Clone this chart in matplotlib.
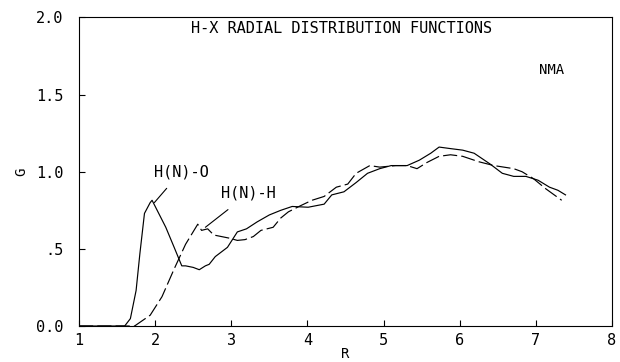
import matplotlib
matplotlib.use("Agg")
import matplotlib.pyplot as plt

# H(N)-O radial distribution (solid)
r_o = [1.0, 1.60, 1.675, 1.75, 1.80, 1.86, 1.935, 1.96, 2.14, 2.25, 2.35, 2.40,
       2.50, 2.58, 2.66, 2.71, 2.79, 2.95, 3.08, 3.20, 3.34, 3.50, 3.65, 3.80,
       4.01, 4.22, 4.32, 4.48, 4.64, 4.79, 4.95, 5.10, 5.31, 5.47, 5.62, 5.73,
       5.88, 6.04, 6.19, 6.40, 6.56, 6.71, 6.87, 7.03, 7.18, 7.29, 7.39]
g_o = [0.0, 0.0, 0.048, 0.23, 0.47, 0.73, 0.80, 0.815, 0.64, 0.51, 0.39, 0.39,
       0.38, 0.365, 0.39, 0.40, 0.45, 0.51, 0.61, 0.63, 0.675, 0.72, 0.75, 0.775,
       0.77, 0.79, 0.85, 0.87, 0.93, 0.99, 1.02, 1.04, 1.04, 1.075, 1.12, 1.16,
       1.15, 1.14, 1.12, 1.05, 0.99, 0.97, 0.97, 0.945, 0.90, 0.88, 0.85]

# H(N)-H radial distribution (dashed)
r_h = [1.0, 1.73, 1.935, 2.09, 2.25, 2.40, 2.56, 2.61, 2.69, 2.77, 2.87, 2.97,
       3.08, 3.18, 3.29, 3.39, 3.55, 3.65, 3.75, 3.91, 4.06, 4.22, 4.38, 4.53,
       4.64, 4.82, 4.95, 5.16, 5.31, 5.44, 5.57, 5.73, 5.88, 6.04, 6.25, 6.45,
       6.71, 6.82, 6.97, 7.13, 7.34]
g_h = [0.0, 0.0, 0.07, 0.19, 0.37, 0.53, 0.66, 0.62, 0.63, 0.59, 0.58, 0.57,
       0.555, 0.56, 0.58, 0.62, 0.64, 0.70, 0.74, 0.78, 0.815, 0.84, 0.90, 0.92,
       0.99, 1.04, 1.03, 1.04, 1.04, 1.02, 1.06, 1.10, 1.11, 1.10, 1.065, 1.04,
       1.02, 1.00, 0.955, 0.89, 0.815]

x_ticks = [1, 2, 3, 4, 5, 6, 7, 8]
y_ticks = [0.0, 0.5, 1.0, 1.5, 2.0]
y_tick_labels = ["0.0", ".5", "1.0", "1.5", "2.0"]

plt.rcParams["font.family"] = ["DejaVu Sans Mono"]

fig = plt.figure(figsize=(6.2, 3.62), dpi=100)
ax = fig.add_axes([0.1274, 0.0994, 0.8596, 0.8523])

ax.plot(r_o, g_o, color="black", linewidth=0.85)
ax.plot(r_h, g_h, color="black", linewidth=0.85, linestyle=(0, (12, 3.5)))

ax.set_xlim(1, 8)
ax.set_ylim(0, 2.0)
ax.set_xticks(x_ticks)
ax.set_yticks(y_ticks)
ax.set_yticklabels(y_tick_labels)
ax.tick_params(direction="in", length=4, width=0.8, labelsize=11)
ax.tick_params(axis="x", pad=5)
ax.tick_params(axis="y", pad=11)
for s in ax.spines.values():
    s.set_linewidth(0.8)

ax.set_xlabel("R", fontsize=10, labelpad=-1)
ax.set_ylabel("G", fontsize=10, labelpad=6)

ax.text(4.45, 1.93, "H-X RADIAL DISTRIBUTION FUNCTIONS", ha="center", va="center",
        fontsize=11)
ax.text(7.21, 1.66, "NMA", ha="center", va="center", fontsize=10)

# curve labels with leader lines
ax.annotate("H(N)-O", xy=(1.99, 0.80), xytext=(2.34, 1.0), ha="center", va="center",
            fontsize=11, arrowprops=dict(arrowstyle="-", color="black", lw=0.8,
                                         shrinkA=6, shrinkB=0))
ax.annotate("H(N)-H", xy=(2.66, 0.64), xytext=(3.23, 0.86), ha="center", va="center",
            fontsize=11, arrowprops=dict(arrowstyle="-", color="black", lw=0.8,
                                         shrinkA=7, shrinkB=0))

fig.savefig("out.png", dpi=100)
